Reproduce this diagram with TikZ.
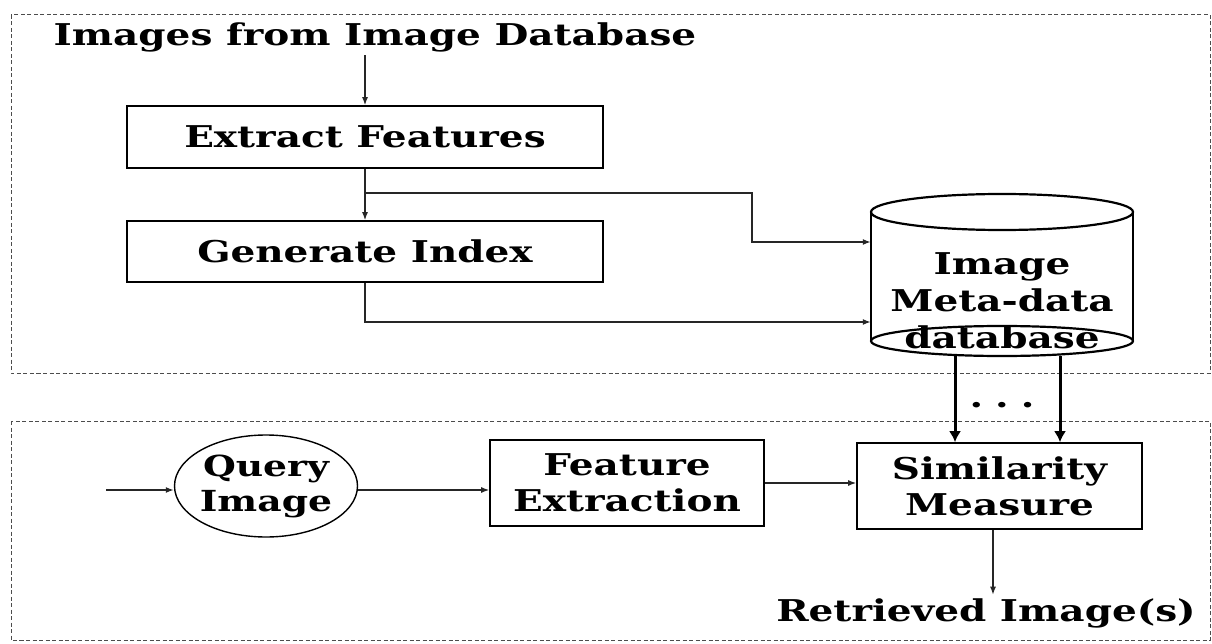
\documentclass[tikz,border=0pt]{standalone}
\usepackage{fontspec}
\setmainfont{DejaVu Serif}[FakeStretch=1.3]
\usetikzlibrary{arrows.meta,shapes.geometric,calc}

\tikzset{
  region/.style={draw=black!70, line width=1pt, dash pattern=on 4pt off 2.5pt},
  boxfont/.style={font=\bfseries\fontsize{30}{36}\selectfont, align=center},
  stagebox/.style={draw, line width=1.6pt, inner sep=0pt, boxfont},
  link/.style={draw=black!85, line width=1.4pt, -{Latex[length=8pt,width=6pt]}},
  feed/.style={draw, line width=3pt, -{Latex[length=11pt,width=12pt]}}
}

\begin{document}
\begin{tikzpicture}[x=1pt,y=-1pt]

        \useasboundingbox (0,0) rectangle (1212,644);

        % the two dashed regions
        \draw[region] (11,15)  rectangle (1210,373);
        \draw[region] (11,421) rectangle (1210,640);

        \node[boxfont] (title) at (375,37) {Images from Image Database};

        \begin{scope}[every node/.style={stagebox}]
          \node[minimum width=476pt, minimum height=62pt] (extract)  at (365,137)   {Extract Features};
          \node[minimum width=476pt, minimum height=61pt] (generate) at (365,251.5) {Generate Index};
          \node[minimum width=274pt, minimum height=86pt] (feature)  at (627,483)   {Feature\\Extraction};
          \node[minimum width=285pt, minimum height=86pt] (simil)    at (999.5,486) {Similarity\\Measure};
        \end{scope}

        % meta-data store
        \node[minimum width=262pt, minimum height=164pt, inner sep=0pt] (meta) at (1002,275) {};
        \begin{scope}[line width=2.2pt]
          \draw (1002,212) ellipse (131pt and 18pt);
          \draw (meta.west |- 0,212) -- (meta.west |- 0,341);
          \draw (meta.east |- 0,212) -- (meta.east |- 0,341);
          \draw (1002,341) ellipse (131pt and 15pt);
        \end{scope}
        \node[boxfont, font=\bfseries\fontsize{30}{37}\selectfont] (metatext) at (1002,301) {Image\\Meta-data\\database};

        \node[draw, ellipse, line width=1.4pt, inner sep=-12pt, minimum width=183pt, minimum height=102pt,
              boxfont, font=\bfseries\fontsize{29}{35}\selectfont] (query) at (266,486) {Query\\Image};

        \node[boxfont] (result) at (986,613) {Retrieved Image(s)};
        \node[boxfont, anchor=base] (dots) at (1002,407) {.\hspace{12pt}.\hspace{12pt}.};

        \coordinate (split) at (extract.south |- 0,193);
        \coordinate (hop)   at (752,242);
        \coordinate (low)   at (generate.south |- 0,322);
        \coordinate (input) at (106,490);
        \coordinate (tapL)  at (955,356);
        \coordinate (tapR)  at (1060,356);
        \coordinate (outx)  at (993,0);

        \path (title.south -| extract.north) edge[link] (extract.north);
        \path (extract.south) edge[link] (generate.north);
        \draw[link] (split) -| (hop) -- (hop -| meta.west);
        \draw[link] (generate.south) |- (low -| meta.west);

        \path (tapL) edge[feed] (tapL |- simil.north);
        \path (tapR) edge[feed] (tapR |- simil.north);

        \path (input) edge[link] (input -| query.west);
        \path (query.east |- input) edge[link] (input -| feature.west);
        \path (feature.east) edge[link] (feature.east -| simil.west);
        \path (outx |- simil.south) edge[link] (outx |- result.north);

      \end{tikzpicture}
\end{document}
